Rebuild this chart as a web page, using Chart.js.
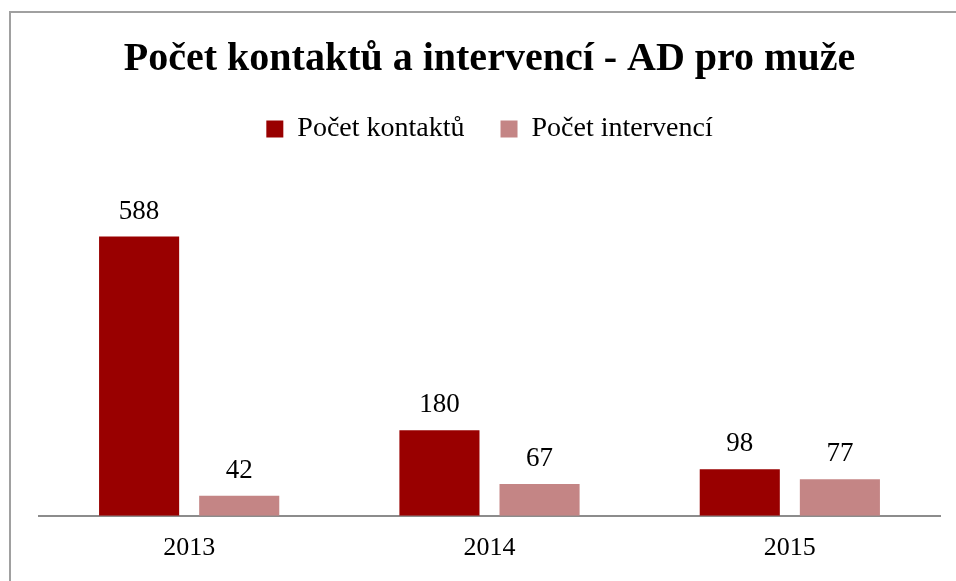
<!DOCTYPE html>
<html>
<head>
<meta charset="utf-8">
<script src="https://cdn.jsdelivr.net/npm/chart.js@4/dist/chart.umd.min.js"></script>
<style>
  html, body { margin: 0; padding: 0; background: #fff; }
  #wrap { position: relative; width: 956px; height: 581px; overflow: hidden; }
  #frame { position: absolute; left: 9px; top: 11px; width: 960px; height: 600px;
           border-left: 2px solid #a0a0a0; border-top: 2px solid #a0a0a0; box-sizing: border-box; }
  canvas { position: absolute; left: 0; top: 0; }
</style>
</head>
<body>
<div id="wrap">
  <div id="frame"></div>
  <canvas id="c" width="956" height="581"></canvas>
</div>
<script>
const titleText = 'Počet kontaktů a intervencí - AD pro muže';
const categories = ['2013', '2014', '2015'];
const seriesNames = ['Počet kontaktů', 'Počet intervencí'];
const kontakty = [588, 180, 98];
const intervence = [42, 67, 77];
const colors = ['#990000', '#C48585'];

const FONT = "'Liberation Serif', 'DejaVu Serif', serif";

const valueLabels = {
  id: 'valueLabels',
  afterDatasetsDraw(chart) {
    const ctx = chart.ctx;
    ctx.save();
    ctx.font = '27px ' + FONT;
    ctx.fillStyle = '#000';
    ctx.textAlign = 'center';
    ctx.textBaseline = 'alphabetic';
    chart.data.datasets.forEach((ds, i) => {
      const meta = chart.getDatasetMeta(i);
      meta.data.forEach((el, j) => {
        ctx.fillText(String(ds.data[j]), el.x, el.y - 18);
      });
    });
    ctx.restore();
  }
};

new Chart(document.getElementById('c'), {
  type: 'bar',
  data: {
    labels: categories,
    datasets: [
      { label: seriesNames[0], data: kontakty, backgroundColor: colors[0] },
      { label: seriesNames[1], data: intervence, backgroundColor: colors[1] }
    ]
  },
  options: {
    responsive: false,
    animation: false,
    devicePixelRatio: 1,
    layout: { padding: { left: 39, right: 16, top: 16, bottom: 0 } },
    datasets: { bar: { barPercentage: 0.8, categoryPercentage: 2 / 3 } },
    plugins: {
      title: {
        display: true,
        text: titleText,
        color: '#000',
        font: { family: FONT, size: 40, weight: 'bold' },
        padding: { top: 20, bottom: -5 }
      },
      legend: {
        display: true,
        labels: {
          color: '#000',
          font: { family: FONT, size: 28 },
          boxWidth: 17,
          boxHeight: 17,
          padding: 36
        }
      },
      tooltip: { enabled: false }
    },
    scales: {
      x: {
        grid: { display: false, drawTicks: false },
        border: { display: true, color: '#8c8c8c', width: 2 },
        ticks: { color: '#000', font: { family: FONT, size: 26 }, padding: 17 }
      },
      y: {
        display: false,
        min: 0,
        max: 764
      }
    }
  },
  plugins: [valueLabels]
});
</script>
</body>
</html>
